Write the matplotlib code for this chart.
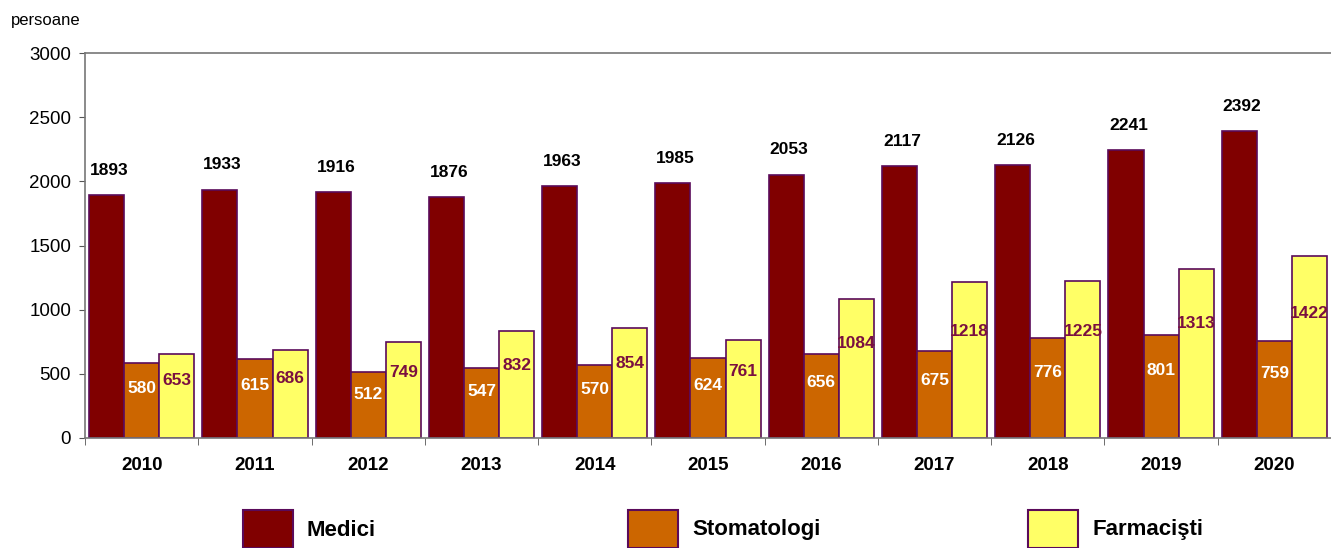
import matplotlib
matplotlib.use("Agg")
import matplotlib.pyplot as plt
from matplotlib.patches import Rectangle
import numpy as np

ani = ["2010", "2011", "2012", "2013", "2014", "2015", "2016", "2017", "2018", "2019", "2020"]
medici = [1893, 1933, 1916, 1876, 1963, 1985, 2053, 2117, 2126, 2241, 2392]
stomatologi = [580, 615, 512, 547, 570, 624, 656, 675, 776, 801, 759]
farmacisti = [653, 686, 749, 832, 854, 761, 1084, 1218, 1225, 1313, 1422]
serii = ["Medici", "Stomatologi", "Farmacişti"]

plt.rcParams['font.family'] = ['Liberation Sans', 'DejaVu Sans']

c_med = "#800000"
c_sto = "#CC6600"
c_far = "#FFFF66"
c_edge = "#5A0A5A"

fig = plt.figure(figsize=(13.31, 5.48), dpi=100)
ax = fig.add_axes([0.0639, 0.201, 0.9361, 0.702])

x = np.arange(len(ani))
w = 0.31
b1 = ax.bar(x - w, medici, w, color=c_med, edgecolor=c_edge, linewidth=1.2)
b2 = ax.bar(x, stomatologi, w, color=c_sto, edgecolor=c_edge, linewidth=1.2)
b3 = ax.bar(x + w, farmacisti, w, color=c_far, edgecolor=c_edge, linewidth=1.2)

# etichete valori
for i in range(len(ani)):
    ax.annotate(str(medici[i]), (x[i] - w, medici[i]), xytext=(2, 18), textcoords="offset points",
                ha="center", va="center", fontsize=12.5, fontweight="bold", color="black")
    ax.text(x[i], stomatologi[i] * 0.66, str(stomatologi[i]), ha="center", va="center",
            fontsize=12.5, fontweight="bold", color="white")
    ax.text(x[i] + w, farmacisti[i] * 0.68, str(farmacisti[i]), ha="center", va="center",
            fontsize=12.5, fontweight="bold", color="#7A1040")

ax.set_xlim(-0.5, len(ani) - 0.5)
ax.set_ylim(0, 3000)
ax.set_yticks(range(0, 3001, 500))
ax.tick_params(axis="y", labelsize=13.5, length=4, color="#555555", pad=6)

ax.set_xticks(x)
ax.set_xticklabels(ani, fontsize=13.5, fontweight="bold")
ax.tick_params(axis="x", length=0, pad=14)
ax.set_xticks(np.arange(-0.5, len(ani), 1), minor=True)
ax.tick_params(axis="x", which="minor", length=5, color="#555555")

for s in ["left", "bottom", "top"]:
    ax.spines[s].set_color("#777777")
    ax.spines[s].set_linewidth(1.2)
ax.spines["right"].set_visible(False)

fig.text(0.008, 0.963, "persoane", fontsize=12, ha="left", va="center")

# legenda
leg_x = [243, 628, 1028]
culori = [c_med, c_sto, c_far]
W, H = 1331, 548
for lx, col, nume in zip(leg_x, culori, serii):
    fig.add_artist(Rectangle((lx / W, 0), 50 / W, 38 / H, transform=fig.transFigure,
                             facecolor=col, edgecolor=c_edge, linewidth=1.5))
    fig.text((lx + 64) / W, 18 / H, nume, fontsize=16, fontweight="bold", ha="left", va="center")

fig.savefig("out.png", dpi=100)
